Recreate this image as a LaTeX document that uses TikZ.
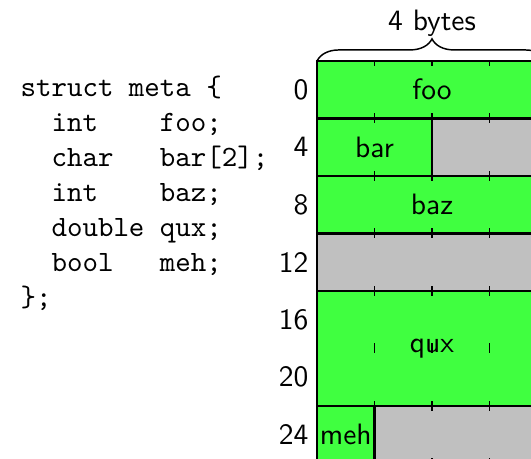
\documentclass[tikz,border=0pt]{standalone}
\usetikzlibrary{decorations.pathreplacing}
\definecolor{fieldgreen}{RGB}{64,255,64}
\definecolor{padgray}{RGB}{192,192,192}

\begin{document}
\begin{tikzpicture}[x=0.339pt,y=-0.339pt,
  field/.style={fill=fieldgreen,draw=black,line width=0.7pt},
  pad/.style={fill=padgray,draw=black,line width=0.7pt},
  bytetick/.style={draw=black,line width=0.4pt},
  fieldname/.style={font=\sffamily,inner sep=0pt},
  offset/.style={font=\sffamily,anchor=east,inner sep=0pt},
  codeline/.style={font=\ttfamily,anchor=base west,inner sep=0pt}]
\useasboundingbox (0,0) rectangle (531,459);
\clip (0,0) rectangle (531,459);

% C source of the struct
\node[codeline] (l1) at (20,97)  {struct meta \{};
\node[codeline] (l2) at (20,132) {~~int~~~~foo;};
\node[codeline] (l3) at (20,167) {~~char~~~bar[2];};
\node[codeline] (l4) at (20,202) {~~int~~~~baz;};
\node[codeline] (l5) at (20,237) {~~double~qux;};
\node[codeline] (l6) at (20,272) {~~bool~~~meh;};
\node[codeline] (l7) at (20,307) {\};};

% memory layout: one row per 4 bytes, 57.5 units per byte column
\path[field] (317,61)    rectangle (547,118.5);
\path[field] (317,118.5) rectangle (432,176);
\path[pad]   (432,118.5) rectangle (547,176);
\path[field] (317,176)   rectangle (547,233.5);
\path[pad]   (317,233.5) rectangle (547,291);
\path[field] (317,291)   rectangle (547,406);
\path[field] (317,406)   rectangle (374.5,463.5);
\path[pad]   (374.5,406) rectangle (547,463.5);

% byte ticks on the top and bottom of every 4-byte row
\foreach \k in {0,...,6} {
  \foreach \c in {1,2,3} {
    \draw[bytetick] (317+57.5*\c,61+57.5*\k) -- ++(0,5);
    \draw[bytetick] (317+57.5*\c,118.5+57.5*\k) -- ++(0,-5);
  }
}

% field names
\node[fieldname] (foo) at (432,89.75)   {foo};
\node[fieldname] (bar) at (374.5,147.25) {bar};
\node[fieldname] (baz) at (432,204.75)  {baz};
\node[fieldname] (qux) at (432,348.5)   {qux};
\node[fieldname] (meh) at (345.75,434.75) {meh};

% byte offsets
\node[offset] (o0)  at (309,89.75)  {0};
\node[offset] (o4)  at (309,147.25) {4};
\node[offset] (o8)  at (309,204.75) {8};
\node[offset] (o12) at (309,262.25) {12};
\node[offset] (o16) at (309,319.75) {16};
\node[offset] (o20) at (309,377.25) {20};
\node[offset] (o24) at (309,434.75) {24};

% row width
\coordinate (bl) at (317,61);
\coordinate (br) at (547,61);
\draw[decorate,decoration={brace,amplitude=7.5pt},line width=0.5pt] (bl) -- (br);
\node[font=\sffamily,anchor=base,inner sep=0pt] (width) at (432,31) {4 bytes};
\end{tikzpicture}
\end{document}
